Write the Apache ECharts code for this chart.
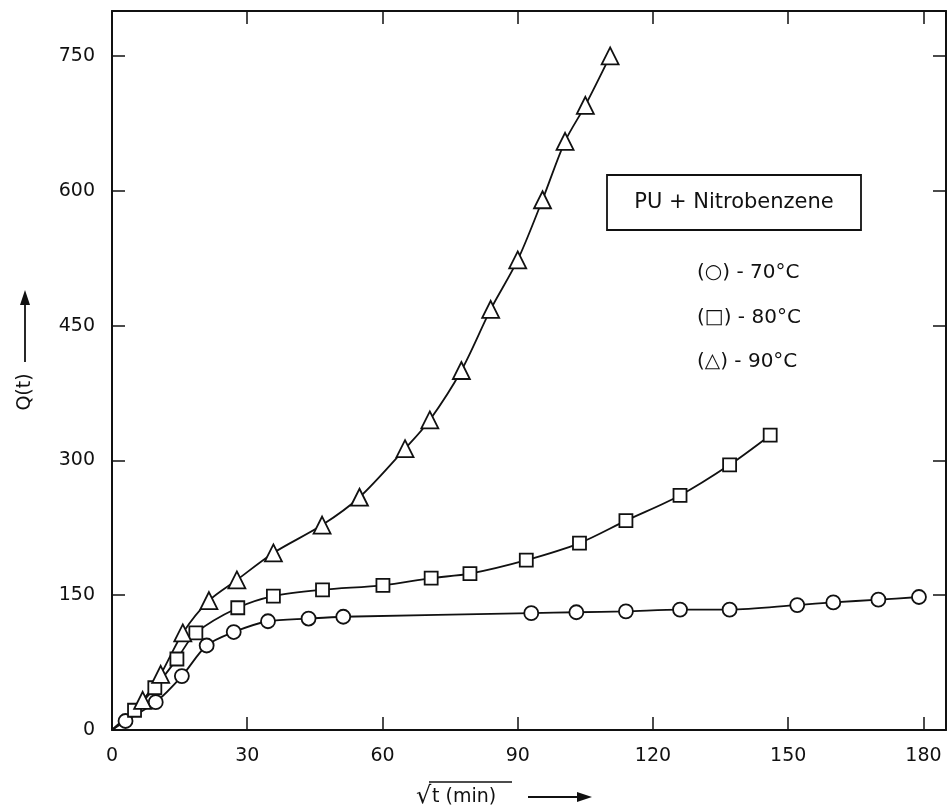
<!DOCTYPE html>
<html>
<head>
<meta charset="utf-8">
<title>PU + Nitrobenzene</title>
<script src="https://cdn.jsdelivr.net/npm/echarts@6/dist/echarts.min.js"></script>
<style>
  html, body { margin: 0; padding: 0; background: #fff; }
  #chart { width: 949px; height: 809px; }
</style>
</head>
<body>
<div id="chart"></div>
<script>
// values: [sqrt t (min), Q(t)]
var origin = [0, 0];
var temp70 = [[3, 10], [9.7, 31], [15.5, 60], [21, 94], [27, 109], [34.6, 121], [43.6, 124], [51.3, 126],
  [93, 130], [103, 131], [114, 132], [126, 134], [137, 134], [152, 139], [160, 142], [170, 145], [179, 148]];
var temp80 = [[5, 22], [9.5, 47], [14.4, 79], [18.6, 108], [27.9, 136], [35.8, 149], [46.7, 156], [60.1, 161],
  [70.8, 169], [79.4, 174], [91.9, 189], [103.7, 208], [114, 233], [126, 261], [137, 295], [146, 328]];
var temp90 = [[6.8, 33], [10.8, 62], [15.7, 108], [21.5, 144], [27.7, 167], [35.8, 197], [46.6, 228], [54.9, 259],
  [65, 313], [70.5, 345], [77.5, 400], [84, 468], [90, 523], [95.5, 590], [100.5, 655], [105, 695], [110.5, 750]];
var xTicks = [0, 30, 60, 90, 120, 150, 180];
var yTicks = [0, 150, 300, 450, 600, 750];

var ink = '#111';
var font = 'DejaVu Sans';

var chart = echarts.init(document.getElementById('chart'));

function curve(name, pts, symbol, size) {
  return {
    name: name,
    type: 'line',
    data: [{ value: origin, symbol: 'none' }].concat(pts),
    symbol: symbol,
    symbolSize: size,
    showAllSymbol: true,
    smooth: 0.3,
    lineStyle: { color: ink, width: 1.8 },
    itemStyle: { color: '#fff', borderColor: ink, borderWidth: 1.8 },
    animation: false
  };
}

function frameAxis(pos, max, interval, ticks, showLabels) {
  return {
    type: 'value',
    position: pos,
    min: 0,
    max: max,
    interval: interval,
    splitLine: { show: false },
    axisLine: { show: true, onZero: false, lineStyle: { color: ink, width: 2 } },
    axisTick: { show: true, inside: true, length: 13, lineStyle: { color: ink, width: 1.5 } },
    axisLabel: {
      show: showLabels,
      color: ink,
      fontFamily: font,
      fontSize: 19,
      margin: 17,
      showMaxLabel: false,
      formatter: function (v) { return ticks.indexOf(v) >= 0 ? String(v) : ''; }
    }
  };
}

var option = {
  backgroundColor: '#fff',
  animation: false,
  grid: { left: 112, right: 3, top: 11, bottom: 79 },
  xAxis: [
    frameAxis('bottom', 185, 30, xTicks, true),
    frameAxis('top', 185, 30, xTicks, false)
  ],
  yAxis: [
    frameAxis('left', 800, 150, yTicks, true),
    frameAxis('right', 800, 150, yTicks, false)
  ],
  series: [
    curve('70°C', temp70, 'circle', 14),
    curve('80°C', temp80, 'rect', 13),
    curve('90°C', temp90, 'triangle', 17)
  ],
  graphic: [
    { type: 'rect', shape: { x: 607, y: 175, width: 254, height: 55 },
      style: { fill: '#fff', stroke: ink, lineWidth: 1.8 }, z: 10 },
    { type: 'text', x: 734, y: 203, z: 11,
      style: { text: 'PU + Nitrobenzene', font: '21px ' + font, fill: ink, align: 'center', verticalAlign: 'middle' } },
    { type: 'text', x: 697, y: 273, z: 11,
      style: { text: '(○) - 70°C', font: '20px ' + font, fill: ink, verticalAlign: 'middle' } },
    { type: 'text', x: 697, y: 318, z: 11,
      style: { text: '(□) - 80°C', font: '20px ' + font, fill: ink, verticalAlign: 'middle' } },
    { type: 'text', x: 697, y: 362, z: 11,
      style: { text: '(△) - 90°C', font: '20px ' + font, fill: ink, verticalAlign: 'middle' } },
    // y axis title with arrow
    { type: 'text', x: 25, y: 392, rotation: Math.PI / 2, z: 11,
      style: { text: 'Q(t)', font: '19px ' + font, fill: ink, align: 'center', verticalAlign: 'middle' } },
    { type: 'line', shape: { x1: 25, y1: 362, x2: 25, y2: 300 }, style: { stroke: ink, lineWidth: 1.8 } },
    { type: 'polygon', shape: { points: [[25, 290], [20, 305], [30, 305]] }, style: { fill: ink } },
    // x axis title with arrow
    { type: 'text', x: 416, y: 797, z: 11,
      style: { text: '√', font: '24px ' + font, fill: ink, verticalAlign: 'middle' } },
    { type: 'line', shape: { x1: 429, y1: 782, x2: 512, y2: 782 }, style: { stroke: ink, lineWidth: 1.5 } },
    { type: 'text', x: 432, y: 797, z: 11,
      style: { text: 't (min)', font: '19px ' + font, fill: ink, verticalAlign: 'middle' } },
    { type: 'line', shape: { x1: 528, y1: 797, x2: 580, y2: 797 }, style: { stroke: ink, lineWidth: 1.8 } },
    { type: 'polygon', shape: { points: [[592, 797], [577, 792], [577, 802]] }, style: { fill: ink } }
  ]
};

chart.setOption(option);
</script>
</body>
</html>
